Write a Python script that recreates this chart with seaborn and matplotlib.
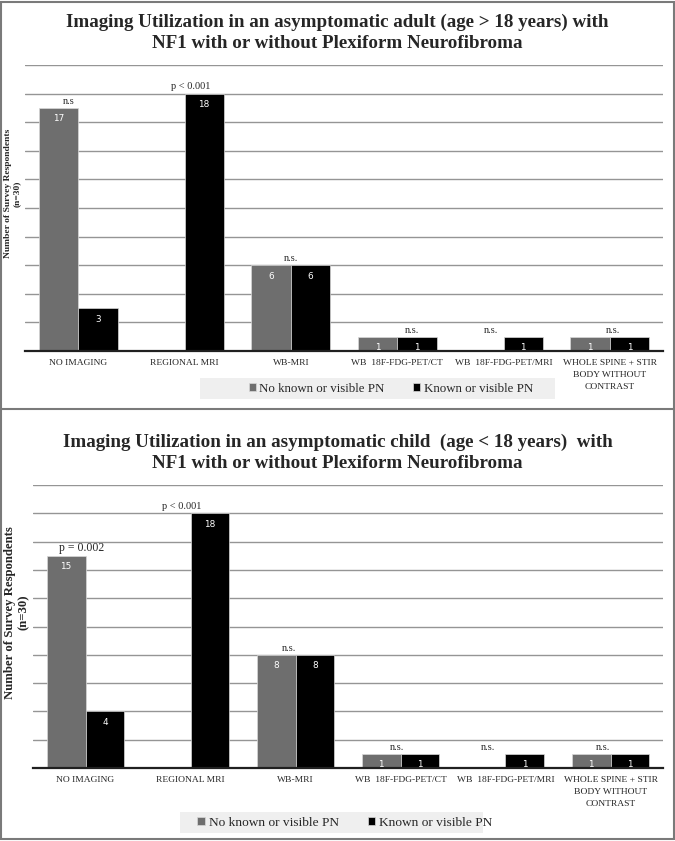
import matplotlib
matplotlib.use("Agg")
import matplotlib.pyplot as plt
import seaborn as sns
import pandas as pd
from matplotlib.patches import Rectangle
from matplotlib.lines import Line2D

# ---------------- data ----------------
categories = ["NO IMAGING", "REGIONAL MRI", "WB-MRI", "WB  18F-FDG-PET/CT",
              "WB  18F-FDG-PET/MRI", "WHOLE SPINE + STIR\nBODY WITHOUT\nCONTRAST"]
groups = ["No known or visible PN", "Known or visible PN"]

adult_no_pn = [17, 0, 6, 1, 0, 1]
adult_pn = [3, 18, 6, 1, 1, 1]
adult_pvals = ["n.s", "p < 0.001", "n.s.", "n.s.", "n.s.", "n.s."]

child_no_pn = [15, 0, 8, 1, 0, 1]
child_pn = [4, 18, 8, 1, 1, 1]
child_pvals = ["p = 0.002", "p < 0.001", "n.s.", "n.s.", "n.s.", "n.s."]

adult_title = "Imaging Utilization in an asymptomatic adult (age > 18 years) with\nNF1 with or without Plexiform Neurofibroma"
child_title = "Imaging Utilization in an asymptomatic child  (age < 18 years)  with\nNF1 with or without Plexiform Neurofibroma"
ylabel_text = "Number of Survey Respondents\n(n=30)"

# ---------------- style ----------------
sns.set_theme(style="white")
SERIF = ["Liberation Serif", "DejaVu Serif"]
plt.rcParams["font.family"] = SERIF
GREY = "#6e6e6e"
BLACK = "#000000"

W, H = 675, 841
fig = plt.figure(figsize=(W / 100, H / 100), dpi=100)


def fx(px):
    return px / W


def fy(py):
    return 1 - py / H


def make_df(a, b):
    rows = []
    for c, v1, v2 in zip(categories, a, b):
        rows.append({"category": c, "group": groups[0], "count": v1})
        rows.append({"category": c, "group": groups[1], "count": v2})
    return pd.DataFrame(rows)


def panel(rect, no_pn, pn, pvals, pdx, title, title_y, ylab_x, ylab_size,
          leg_box, leg_y, pfs, leg_fs):
    ax = fig.add_axes(rect)
    df = make_df(no_pn, pn)
    sns.barplot(data=df, x="category", y="count", hue="group",
                palette=[GREY, BLACK], width=0.74, ax=ax,
                edgecolor="#d8d8d8", linewidth=0.5, legend=True)
    ax.set_ylim(0, 20)
    ax.set_yticks(range(2, 21, 2))
    ax.set_yticklabels([])
    ax.tick_params(axis="y", length=0)
    ax.tick_params(axis="x", length=0, pad=6)
    ax.set_xticks(range(len(categories)))
    ax.set_xticklabels(categories, fontsize=6.8, family=SERIF, linespacing=1.65)
    ax.set_xlabel("")
    ax.set_ylabel("")
    ax.grid(axis="y", color="#959595", linewidth=1.0)
    ax.set_axisbelow(True)
    for s in ["top", "right", "left"]:
        ax.spines[s].set_visible(False)
    ax.spines["bottom"].set_color("#202020")
    ax.spines["bottom"].set_linewidth(1.6)
    ax.set_xlim(-0.5, len(categories) - 0.5)

    # value labels
    for cont in ax.containers:
        for b in cont:
            h = b.get_height()
            if h > 0:
                ax.text(b.get_x() + b.get_width() / 2, h - 0.45, f"{int(h)}",
                        ha="center", va="top", color="white", fontsize=6.4,
                        family=["DejaVu Sans"])

    # p-value annotations
    for i, (txt, dx) in enumerate(zip(pvals, pdx)):
        top = max(no_pn[i], pn[i])
        ax.text(i + dx, top + 0.15, txt, ha="center", va="bottom",
                fontsize=pfs[i], family=SERIF)

    handles, labs = ax.get_legend_handles_labels()
    ax.get_legend().remove()

    # title
    fig.text(0.5, title_y, title, ha="center", va="center", fontsize=13.7,
             fontweight="bold", family=SERIF, linespacing=1.32)
    # y label
    fig.text(ylab_x, rect[1] + rect[3] * 0.55, ylabel_text, rotation=90,
             ha="center", va="center", fontsize=ylab_size, fontweight="bold",
             family=SERIF, linespacing=1.15)
    # legend background + legend
    x0, y0, x1, y1 = leg_box
    fig.patches.append(Rectangle((fx(x0), fy(y1)), fx(x1 - x0), fy(y0) - fy(y1),
                                 transform=fig.transFigure, facecolor="#efefef",
                                 edgecolor="none", zorder=0))
    fig.legend(handles, labs, loc="center", bbox_to_anchor=(fx((x0 + x1) / 2) + 0.02, leg_y),
               ncol=2, frameon=False, handlelength=0.55,
               handleheight=0.55, handletextpad=0.3, columnspacing=2.2,
               prop={"family": SERIF, "size": leg_fs})
    return ax


# top panel
top_rect = [fx(25), fy(351), fx(663 - 25), fy(65) - fy(351)]
panel(top_rect, adult_no_pn, adult_pn, adult_pvals,
      [-0.09, 0.06, 0.0, 0.14, -0.12, 0.03],
      adult_title, fy(32.5), fx(12), 6.8, (200, 378, 555, 399), fy(388.5),
      [7.5, 7.5, 7.5, 7.5, 7.5, 7.5], 9.3)

# bottom panel
bot_rect = [fx(33), fy(768), fx(663 - 33), fy(485) - fy(768)]
panel(bot_rect, child_no_pn, child_pn, child_pvals,
      [-0.04, -0.08, -0.06, -0.03, -0.17, -0.07],
      child_title, fy(452.5), fx(17), 9.2, (180, 812, 483, 833), fy(822.5),
      [8.5, 7.5, 7.5, 7.5, 7.5, 7.5], 9.6)

# frames
fig.patches.append(Rectangle((0.002, 0.002), 0.996, 0.996, transform=fig.transFigure,
                             facecolor="none", edgecolor="#7a7a7a", linewidth=1.5))
fig.lines.append(Line2D([0, 1], [fy(409), fy(409)], transform=fig.transFigure,
                        color="#7a7a7a", linewidth=1.5))

fig.savefig("out.png", dpi=100)
